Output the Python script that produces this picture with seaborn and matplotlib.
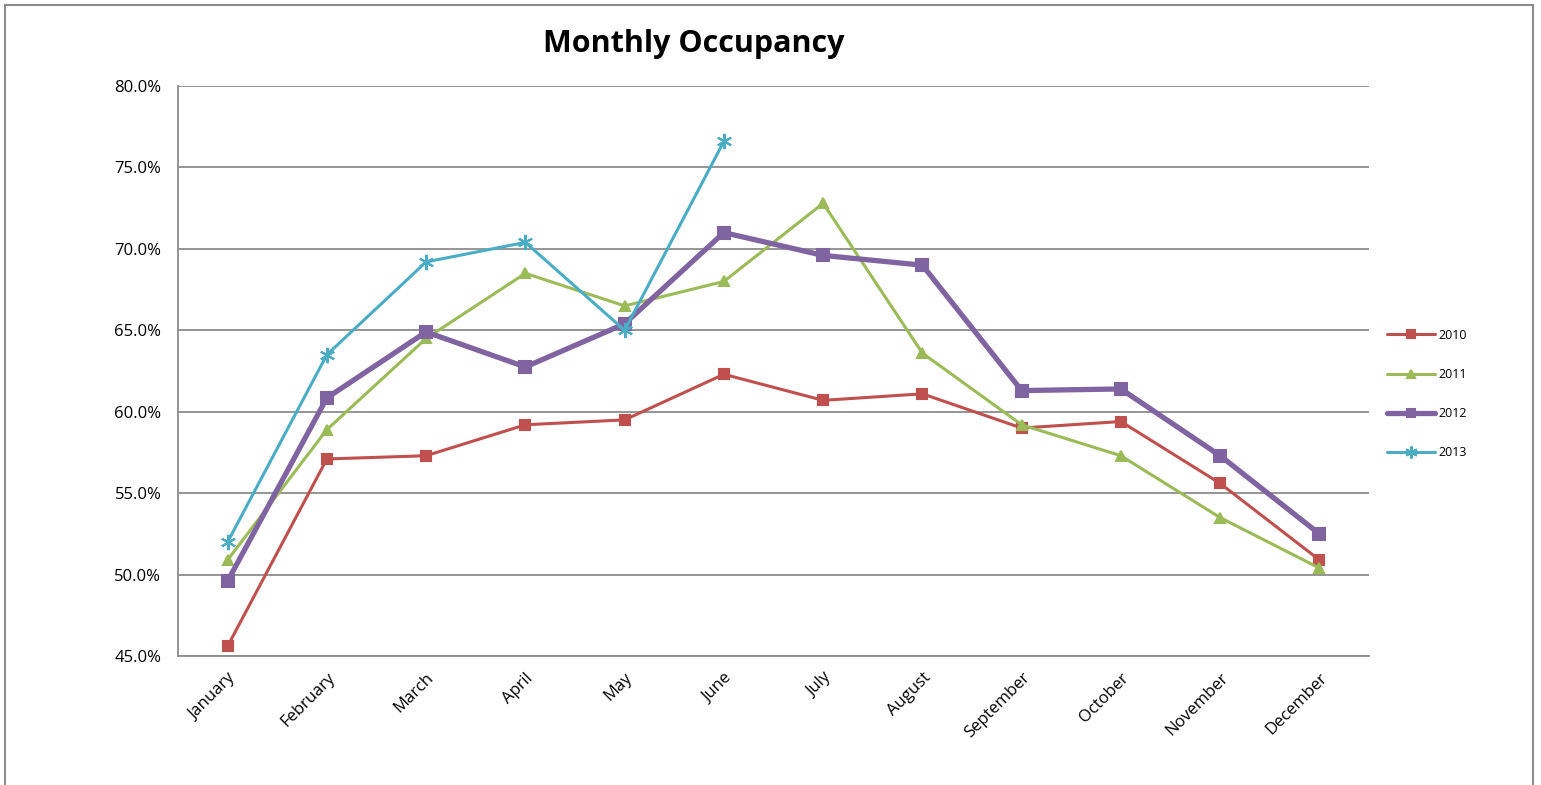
import matplotlib
matplotlib.use("Agg")
import matplotlib.pyplot as plt
import matplotlib.patches as patches
from matplotlib.ticker import FuncFormatter, FixedLocator
import pandas as pd
import seaborn as sns

# Data
months = ["January", "February", "March", "April", "May", "June",
          "July", "August", "September", "October", "November", "December"]
occ_2010 = [45.6, 57.1, 57.3, 59.2, 59.5, 62.3, 60.7, 61.1, 59.0, 59.4, 55.6, 50.9]
occ_2011 = [50.9, 58.9, 64.5, 68.5, 66.5, 68.0, 72.8, 63.6, 59.2, 57.3, 53.5, 50.4]
occ_2012 = [49.6, 60.85, 64.9, 62.75, 65.4, 71.0, 69.6, 69.0, 61.3, 61.4, 57.3, 52.5]
occ_2013 = [52.0, 63.5, 69.2, 70.4, 65.0, 76.6]

series = {
    "2010": occ_2010,
    "2011": occ_2011,
    "2012": occ_2012,
    "2013": occ_2013,
}

styles = {
    "2010": dict(color="#C0504D", marker="s", ms=7, lw=2.2),
    "2011": dict(color="#9BBB59", marker="^", ms=7, lw=2.2),
    "2012": dict(color="#8064A2", marker="s", ms=8, lw=3.8),
    "2013": dict(color="#4BACC6", marker=(6, 2, 0), ms=11, lw=2.2),
}

rows = []
for year, vals in series.items():
    for m, v in zip(months, vals):
        rows.append({"month": months.index(m), "year": year, "value": v})
df = pd.DataFrame(rows)

sns.set_style("white")
plt.rcParams["font.family"] = ["Open Sans", "DejaVu Sans"]
plt.rcParams["text.color"] = "black"
plt.rcParams["xtick.color"] = "black"
plt.rcParams["ytick.color"] = "black"

fig = plt.figure(figsize=(15.41, 7.85), dpi=100)
ax = fig.add_axes([0.1155, 0.1643, 0.7729, 0.7261])

for year in series:
    st = styles[year]
    sub = df[df["year"] == year]
    sns.lineplot(
        data=sub, x="month", y="value", ax=ax,
        color=st["color"], marker=st["marker"], markersize=st["ms"],
        linewidth=st["lw"], markeredgecolor=st["color"],
        markeredgewidth=1.5, label=year,
    )

ax.set_xlim(-0.5, 11.5)
ax.set_ylim(45, 80)
ax.set_yticks([45, 50, 55, 60, 65, 70, 75, 80])
ax.yaxis.set_major_formatter(FuncFormatter(lambda v, p: f"{v:.1f}%"))
ax.yaxis.grid(True, color="#8C8C8C", linewidth=1.3)
ax.set_axisbelow(True)

ax.set_xticks(range(12))
ax.set_xticklabels(months, rotation=45, ha="right", rotation_mode="anchor", fontsize=12)
ax.xaxis.set_minor_locator(FixedLocator([i - 0.5 for i in range(13)]))
ax.tick_params(axis="x", which="major", length=0, pad=10, colors="black")
ax.tick_params(axis="x", which="minor", length=6, color="#8C8C8C", width=1.3, direction="out")
ax.tick_params(axis="y", length=6, color="#8C8C8C", labelcolor="black", width=1.3,
               direction="out", labelsize=12, pad=6)
ax.set_xlabel("")
ax.set_ylabel("")

for side in ["top", "right"]:
    ax.spines[side].set_visible(False)
for side in ["left", "bottom"]:
    ax.spines[side].set_color("#8C8C8C")
    ax.spines[side].set_linewidth(1.3)

leg = ax.legend(
    loc="center left", bbox_to_anchor=(0.893, 0.498), bbox_transform=fig.transFigure,
    frameon=False, fontsize=9, handlelength=3.8, labelspacing=2.1,
    handletextpad=0.3, markerscale=0.8,
)

fig.text(0.45, 0.944, "Monthly Occupancy", ha="center", va="center",
         fontsize=22, fontweight="bold", color="black")

# outer chart border
fig.patches.append(patches.Rectangle(
    (5 / 1541, -0.05), 1528 / 1541, 1.05 - 5 / 785,
    transform=fig.transFigure, fill=False, edgecolor="#8C8C8C", linewidth=1.5))

fig.savefig("out.png", dpi=100)
